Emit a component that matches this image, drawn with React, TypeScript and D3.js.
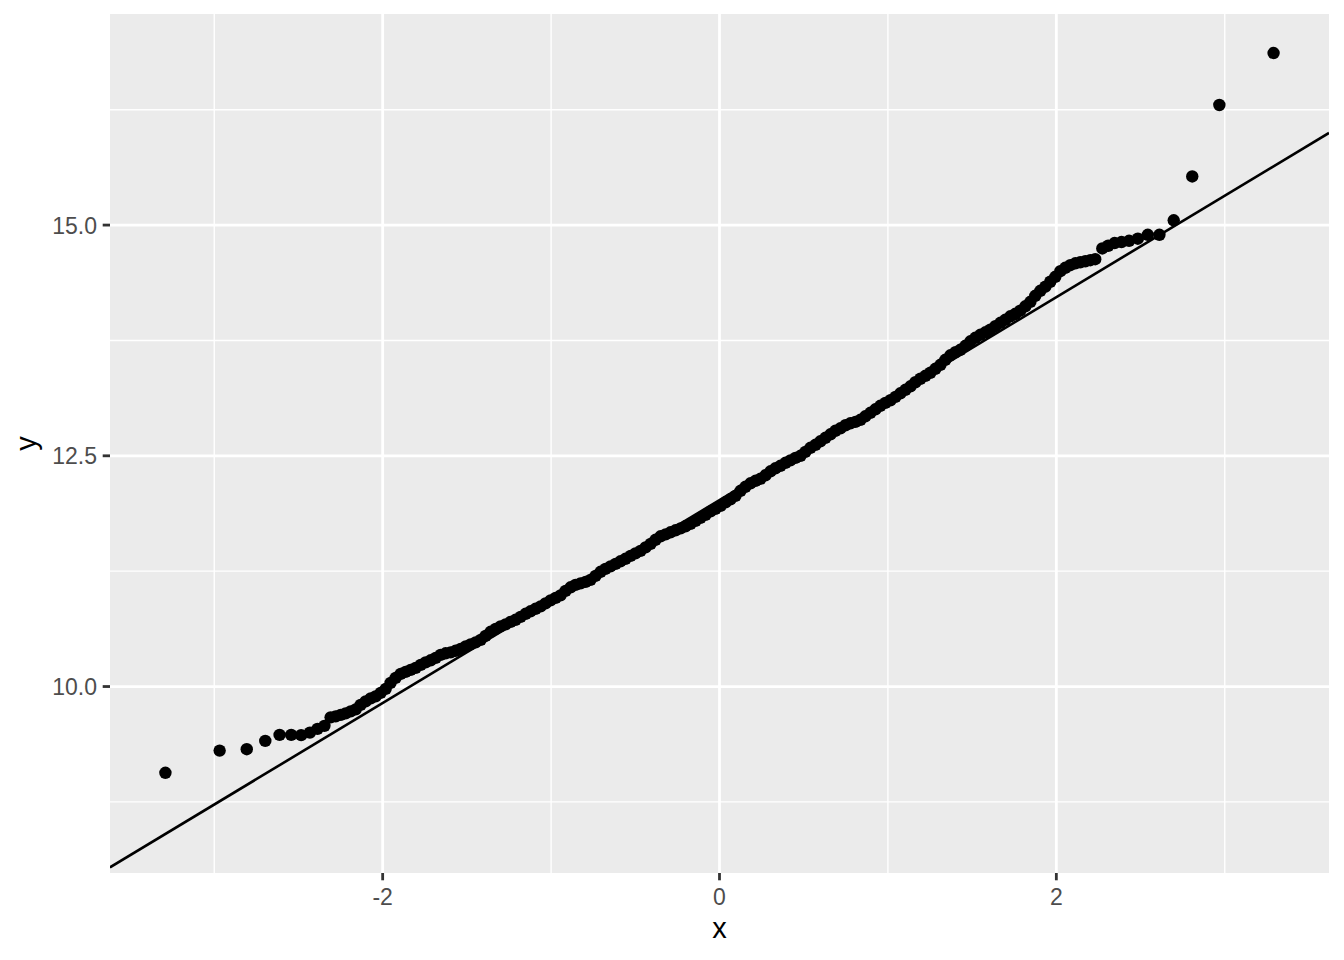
import React from "react";
import * as d3 from "d3";

// Theoretical quantiles (x) and sample quantiles (y)
const leftTailX = [-3.290, -2.968, -2.807, -2.697, -2.612, -2.543, -2.484, -2.432, -2.387, -2.346];
const leftTailY = [9.065, 9.306, 9.321, 9.411, 9.476, 9.476, 9.473, 9.501, 9.541, 9.574];

const bandX = [-2.309,-2.279,-2.249,-2.220,-2.190,-2.160,-2.131,-2.101,-2.071,-2.042,-2.012,-1.982,-1.953,-1.923,-1.893,-1.864,-1.834,-1.804,-1.774,-1.745,-1.715,-1.685,-1.656,-1.626,-1.596,-1.567,-1.537,-1.507,-1.478,-1.448,-1.418,-1.389,-1.359,-1.329,-1.300,-1.270,-1.240,-1.211,-1.181,-1.151,-1.122,-1.092,-1.062,-1.033,-1.003,-0.973,-0.944,-0.914,-0.884,-0.855,-0.825,-0.795,-0.766,-0.736,-0.706,-0.677,-0.647,-0.617,-0.588,-0.558,-0.528,-0.499,-0.469,-0.439,-0.409,-0.380,-0.350,-0.320,-0.291,-0.261,-0.231,-0.202,-0.172,-0.142,-0.113,-0.083,-0.053,-0.024,0.006,0.036,0.065,0.095,0.125,0.154,0.184,0.214,0.243,0.273,0.303,0.332,0.362,0.392,0.421,0.451,0.481,0.510,0.540,0.570,0.599,0.629,0.659,0.688,0.718,0.748,0.777,0.807,0.837,0.866,0.896,0.926,0.955,0.985,1.015,1.045,1.074,1.104,1.134,1.163,1.193,1.223,1.252,1.282,1.312,1.341,1.371,1.401,1.430,1.460,1.490,1.519,1.549,1.579,1.608,1.638,1.668,1.697,1.727,1.757,1.786,1.816,1.846,1.875,1.905,1.935,1.964,1.994,2.024,2.053,2.083,2.113,2.142,2.172,2.202,2.231];
const bandY = [9.666,9.677,9.693,9.709,9.731,9.753,9.801,9.839,9.872,9.893,9.931,9.975,10.040,10.094,10.137,10.159,10.181,10.202,10.235,10.262,10.284,10.311,10.343,10.360,10.370,10.387,10.408,10.435,10.457,10.479,10.506,10.549,10.593,10.625,10.652,10.674,10.701,10.723,10.755,10.788,10.815,10.842,10.869,10.901,10.934,10.961,10.988,11.037,11.075,11.102,11.118,11.134,11.156,11.199,11.243,11.275,11.302,11.329,11.357,11.384,11.416,11.443,11.470,11.508,11.546,11.590,11.628,11.649,11.671,11.693,11.714,11.736,11.763,11.796,11.828,11.861,11.898,11.926,11.958,11.996,12.029,12.066,12.121,12.164,12.202,12.229,12.251,12.289,12.332,12.365,12.392,12.424,12.451,12.478,12.500,12.543,12.587,12.619,12.657,12.695,12.733,12.771,12.798,12.831,12.852,12.868,12.890,12.928,12.966,13.004,13.042,13.074,13.102,13.139,13.177,13.215,13.253,13.297,13.335,13.367,13.400,13.443,13.486,13.540,13.589,13.622,13.649,13.692,13.741,13.779,13.811,13.838,13.866,13.904,13.941,13.974,14.012,14.039,14.072,14.120,14.169,14.234,14.288,14.332,14.386,14.440,14.500,14.537,14.565,14.586,14.597,14.608,14.619,14.630];

const rightTailX = [2.273, 2.308, 2.346, 2.387, 2.432, 2.484, 2.543, 2.612, 2.697, 2.807, 2.968, 3.290];
const rightTailY = [14.747, 14.776, 14.805, 14.816, 14.830, 14.852, 14.895, 14.895, 15.052, 15.527, 16.301, 16.864];

// Reference line (qq line)
const lineSlope = 1.0995;
const lineIntercept = 12.02;

const xTicks = [-2, 0, 2];
const xTickLabels = ["-2", "0", "2"];
const xMinor = [-3, -1, 1, 3];
const yTicks = [10, 12.5, 15];
const yTickLabels = ["10.0", "12.5", "15.0"];
const yMinor = [8.75, 11.25, 13.75, 16.25];

const W = 1344;
const H = 960;
const panel = { left: 110, right: 1329, top: 14, bottom: 873 };

function pairs(xs: number[], ys: number[]) {
  const n = Math.min(xs.length, ys.length);
  const out: [number, number][] = [];
  for (let i = 0; i < n; i++) out.push([xs[i], ys[i]]);
  return out;
}

export default function App() {
  const points = [
    ...pairs(leftTailX, leftTailY),
    ...pairs(bandX, bandY),
    ...pairs(rightTailX, rightTailY),
  ];
  const xExt = d3.extent(points, (d) => d[0]) as [number, number];
  const lineYs = xExt.map((x) => lineIntercept + lineSlope * x);
  const yAll = [...points.map((d) => d[1]), ...lineYs];
  const yExt = d3.extent(yAll) as [number, number];
  const xPad = (xExt[1] - xExt[0]) * 0.05;
  const yPad = (yExt[1] - yExt[0]) * 0.05;

  const x = d3.scaleLinear().domain([xExt[0] - xPad, xExt[1] + xPad]).range([panel.left, panel.right]);
  const y = d3.scaleLinear().domain([yExt[0] - yPad, yExt[1] + yPad]).range([panel.bottom, panel.top]);

  const [dx0, dx1] = x.domain();
  const lineGen = d3.line<number>().x((d) => x(d)).y((d) => y(lineIntercept + lineSlope * d));

  const font = "'Liberation Sans', Arial, Helvetica, sans-serif";

  return (
    <svg
      width={W}
      height={H}
      style={{ position: "absolute", left: 0, top: 0, background: "#ffffff" }}
      fontFamily={font}
    >
      <defs>
        <clipPath id="panelClip">
          <rect x={panel.left} y={panel.top} width={panel.right - panel.left} height={panel.bottom - panel.top} />
        </clipPath>
      </defs>
      <rect x={0} y={0} width={W} height={H} fill="#ffffff" />
      <rect
        x={panel.left}
        y={panel.top}
        width={panel.right - panel.left}
        height={panel.bottom - panel.top}
        fill="#EBEBEB"
      />
      {xMinor.map((v) => (
        <line key={"xm" + v} x1={x(v)} x2={x(v)} y1={panel.top} y2={panel.bottom} stroke="#ffffff" strokeWidth={1.4} />
      ))}
      {yMinor.map((v) => (
        <line key={"ym" + v} x1={panel.left} x2={panel.right} y1={y(v)} y2={y(v)} stroke="#ffffff" strokeWidth={1.4} />
      ))}
      {xTicks.map((v) => (
        <line key={"xM" + v} x1={x(v)} x2={x(v)} y1={panel.top} y2={panel.bottom} stroke="#ffffff" strokeWidth={2.8} />
      ))}
      {yTicks.map((v) => (
        <line key={"yM" + v} x1={panel.left} x2={panel.right} y1={y(v)} y2={y(v)} stroke="#ffffff" strokeWidth={2.8} />
      ))}
      <g clipPath="url(#panelClip)">
        {points.map((d, i) => (
          <circle key={i} cx={x(d[0])} cy={y(d[1])} r={6.2} fill="#000000" />
        ))}
        <path d={lineGen([dx0, dx1]) || ""} stroke="#000000" strokeWidth={2.6} fill="none" />
      </g>
      {xTicks.map((v, i) => (
        <g key={"xt" + v}>
          <line x1={x(v)} x2={x(v)} y1={panel.bottom} y2={panel.bottom + 7.3} stroke="#333333" strokeWidth={2.8} />
          <text x={x(v)} y={905} textAnchor="middle" fontSize={23} fill="#4D4D4D">
            {xTickLabels[i]}
          </text>
        </g>
      ))}
      {yTicks.map((v, i) => (
        <g key={"yt" + v}>
          <line x1={panel.left - 7.3} x2={panel.left} y1={y(v)} y2={y(v)} stroke="#333333" strokeWidth={2.8} />
          <text x={97} y={y(v) + 8.5} textAnchor="end" fontSize={23} fill="#4D4D4D">
            {yTickLabels[i]}
          </text>
        </g>
      ))}
      <text x={(panel.left + panel.right) / 2} y={938} textAnchor="middle" fontSize={29} fill="#000000">
        x
      </text>
      <text
        transform={`translate(36, ${(panel.top + panel.bottom) / 2}) rotate(-90)`}
        textAnchor="middle"
        fontSize={29}
        fill="#000000"
      >
        y
      </text>
    </svg>
  );
}
